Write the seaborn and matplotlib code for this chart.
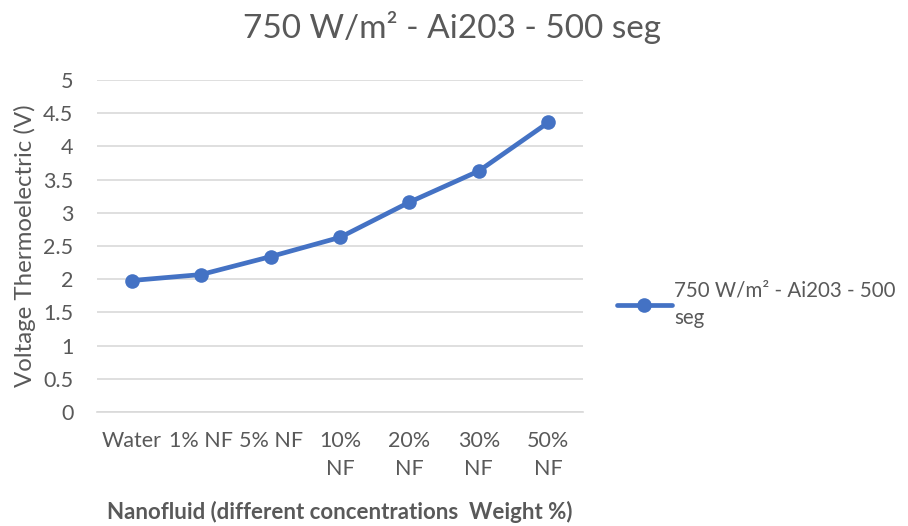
import matplotlib
matplotlib.use("Agg")
import matplotlib.pyplot as plt
import seaborn as sns
import pandas as pd

# Thermoelectric voltage for each nanofluid concentration
categories = ["Water", "1% NF", "5% NF", "10%\nNF", "20%\nNF", "30%\nNF", "50%\nNF"]
voltage = [1.98, 2.07, 2.34, 2.63, 3.16, 3.63, 4.36]
series_name = "750 W/m² - Ai203 - 500 seg"
legend_label = "750 W/m² - Ai203 - 500\nseg"
y_ticks = [0, 0.5, 1, 1.5, 2, 2.5, 3, 3.5, 4, 4.5, 5]
y_tick_labels = ["0", "0.5", "1", "1.5", "2", "2.5", "3", "3.5", "4", "4.5", "5"]

df = pd.DataFrame({"pos": range(len(categories)), "voltage": voltage})

sns.set_theme(style="white")
plt.rcParams["font.family"] = ["Lato", "DejaVu Sans"]

text_gray = "#595959"
grid_gray = "#d9d9d9"
line_blue = "#4472C4"

fig = plt.figure(figsize=(9.08, 5.26), dpi=100)
ax = fig.add_axes([97 / 908, 1 - 412 / 526, 486 / 908, 332 / 526])

sns.lineplot(data=df, x="pos", y="voltage", ax=ax, color=line_blue,
             linewidth=3.4, marker="o", markersize=10.5, markeredgewidth=0,
             label=legend_label)

ax.set_xlim(-0.5, len(categories) - 0.5)
ax.set_ylim(0, 5)
ax.set_yticks(y_ticks)
ax.set_yticklabels(y_tick_labels)
ax.set_xticks(range(len(categories)))
ax.set_xticklabels(categories, linespacing=1.45, va="top")

ax.yaxis.grid(True, color=grid_gray, linewidth=1.2)
ax.set_axisbelow(True)
for side in ["left", "right", "top"]:
    ax.spines[side].set_visible(False)
ax.spines["bottom"].set_color(grid_gray)
ax.spines["bottom"].set_linewidth(1.2)

ax.tick_params(axis="both", length=0, colors=text_gray, labelsize=15.5)
ax.tick_params(axis="y", pad=17)
ax.tick_params(axis="x", pad=14)

ax.set_xlabel("Nanofluid (different concentrations  Weight %)",
              fontsize=16, fontweight="bold", color=text_gray, labelpad=16)
ax.set_ylabel("Voltage Thermoelectric (V)", fontsize=17.3,
              color=text_gray, labelpad=5)

fig.suptitle(series_name, x=452 / 908, y=1 - 27 / 526, va="center",
             fontsize=24, color=text_gray)

leg = ax.legend(loc="center left", bbox_to_anchor=(598 / 908, 1 - 304 / 526),
                bbox_transform=fig.transFigure, frameon=False,
                fontsize=14.8, handlelength=2.7, handletextpad=0.1,
                labelspacing=0.2, labelcolor=text_gray)
for t in leg.get_texts():
    t.set_linespacing(1.45)

fig.savefig("out.png", dpi=100)
